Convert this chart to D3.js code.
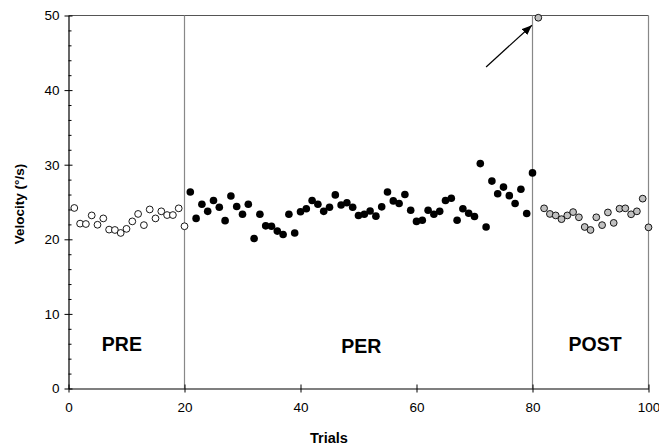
<!DOCTYPE html>
<html>
<head>
<meta charset="utf-8">
<script src="https://cdn.jsdelivr.net/npm/d3@7"></script>
<style>
  html, body { margin: 0; padding: 0; background: #fff; }
  svg { display: block; font-family: "Liberation Sans", Arial, sans-serif; }
</style>
</head>
<body>
<script>
// ---- Data ----
const preTrials = [1,2,3,4,5,6,7,8,9,10,11,12,13,14,15,16,17,18,19,20];
const preVel = [24.2, 22.1, 22.05, 23.2, 21.95, 22.8, 21.3, 21.25, 20.85, 21.4,
                22.4, 23.4, 21.9, 24.0, 22.8, 23.75, 23.25, 23.25, 24.15, 21.75];

const perTrials = [21,22,23,24,25,26,27,28,29,30,31,32,33,34,35,36,37,38,39,40,
                   41,42,43,44,45,46,47,48,49,50,51,52,53,54,55,56,57,58,59,60,
                   61,62,63,64,65,66,67,68,69,70,71,72,73,74,75,76,77,78,79,80];
const perVel = [26.35, 22.8, 24.7, 23.75, 25.2, 24.3, 22.5, 25.8, 24.4, 23.35,
                24.7, 20.1, 23.35, 21.8, 21.75, 21.1, 20.65, 23.35, 20.85, 23.7,
                24.1, 25.2, 24.7, 23.75, 24.3, 25.95, 24.6, 24.9, 24.3, 23.2,
                23.35, 23.8, 23.1, 24.35, 26.35, 25.15, 24.8, 26.0, 23.9, 22.4,
                22.55, 23.9, 23.35, 23.75, 25.2, 25.5, 22.55, 24.1, 23.5, 23.05,
                30.15, 21.65, 27.8, 26.1, 27.0, 25.85, 24.8, 26.7, 23.45, 28.9];

const postTrials = [81,82,83,84,85,86,87,88,89,90,91,92,93,94,95,96,97,98,99,100];
const postVel = [49.7, 24.15, 23.4, 23.2, 22.7, 23.2, 23.65, 22.95, 21.65, 21.25,
                 22.95, 21.9, 23.6, 22.2, 24.1, 24.15, 23.35, 23.75, 25.45, 21.6];

const phaseBoundaries = [20, 80];
const phaseLabels = ["PRE", "PER", "POST"];
const phaseLabelX = [9.2, 50.5, 90.8];
const phaseLabelY = [5.0, 4.7, 5.0];

const xTicks = [0, 20, 40, 60, 80, 100];
const yTicks = [0, 10, 20, 30, 40, 50];
const yMinorTicks = [2,4,6,8,12,14,16,18,22,24,26,28,32,34,36,38,42,44,46,48];

const arrowFrom = [72.0, 43.1];
const arrowTo = [79.9, 48.7];

// ---- Chart ----
const W = 659, H = 447;
const svg = d3.select("body").append("svg").attr("width", W).attr("height", H);

const x = d3.scaleLinear().domain([0, 100]).range([68.5, 648.5]);
const y = d3.scaleLinear().domain([0, 50]).range([388.5, 15.5]);

// frame (top & right)
svg.append("line").attr("x1", x(0)).attr("x2", x(100)).attr("y1", y(50)).attr("y2", y(50))
  .attr("stroke", "#555").attr("stroke-width", 1.2);
svg.append("line").attr("x1", x(100)).attr("x2", x(100)).attr("y1", y(0)).attr("y2", y(50))
  .attr("stroke", "#888").attr("stroke-width", 1.2);

// phase boundaries
svg.selectAll("line.phase").data(phaseBoundaries).enter().append("line")
  .attr("class", "phase")
  .attr("x1", d => x(d)).attr("x2", d => x(d))
  .attr("y1", y(0)).attr("y2", y(50))
  .attr("stroke", "#888").attr("stroke-width", 1.2);

// phase labels
svg.selectAll("text.phaselab").data(phaseLabels).enter().append("text")
  .attr("class", "phaselab")
  .attr("x", (d, i) => x(phaseLabelX[i]))
  .attr("y", (d, i) => y(phaseLabelY[i]))
  .attr("text-anchor", "middle")
  .attr("font-size", "19.5px").attr("font-weight", "bold")
  .text(d => d);

// points
const R = 3.4;
svg.append("g").selectAll("circle").data(preTrials).enter().append("circle")
  .attr("cx", d => x(d)).attr("cy", (d, i) => y(preVel[i])).attr("r", R)
  .attr("fill", "#fff").attr("stroke", "#000").attr("stroke-width", 0.9);
svg.append("g").selectAll("circle").data(perTrials).enter().append("circle")
  .attr("cx", d => x(d)).attr("cy", (d, i) => y(perVel[i])).attr("r", R + 0.4)
  .attr("fill", "#000");
svg.append("g").selectAll("circle").data(postTrials).enter().append("circle")
  .attr("cx", d => x(d)).attr("cy", (d, i) => y(postVel[i])).attr("r", R)
  .attr("fill", "#c0c0c0").attr("stroke", "#000").attr("stroke-width", 0.9);

// arrow
const defs = svg.append("defs");
defs.append("marker").attr("id", "ah")
  .attr("markerUnits", "userSpaceOnUse")
  .attr("viewBox", "0 0 10 8").attr("refX", 10).attr("refY", 4)
  .attr("markerWidth", 10).attr("markerHeight", 8).attr("orient", "auto")
  .append("path").attr("d", "M0,0 L10,4 L0,8 Z").attr("fill", "#000");
svg.append("line")
  .attr("x1", x(arrowFrom[0])).attr("y1", y(arrowFrom[1]))
  .attr("x2", x(arrowTo[0])).attr("y2", y(arrowTo[1]))
  .attr("stroke", "#000").attr("stroke-width", 1.2)
  .attr("marker-end", "url(#ah)");

// axes
const xAxis = svg.append("g").attr("transform", `translate(0,${y(0)})`)
  .call(d3.axisBottom(x).tickValues(xTicks).tickSize(4).tickPadding(9.5).tickSizeOuter(0));
xAxis.selectAll(".tick line").attr("y1", -4);
const yAxis = svg.append("g").attr("transform", `translate(${x(0)},0)`)
  .call(d3.axisLeft(y).tickValues(yTicks).tickSize(4).tickPadding(5).tickSizeOuter(0));
yAxis.selectAll(".tick line").attr("x1", 4);
const yMinor = svg.append("g").attr("transform", `translate(${x(0)},0)`)
  .call(d3.axisLeft(y).tickValues(yMinorTicks).tickSize(-3).tickFormat("").tickSizeOuter(0));
yMinor.select(".domain").remove();

[xAxis, yAxis, yMinor].forEach(g => {
  g.selectAll("path.domain").attr("stroke", "#000").attr("stroke-width", 1.2);
  g.selectAll(".tick line").attr("stroke", "#000").attr("stroke-width", 1);
  g.selectAll(".tick text").attr("fill", "#000")
    .attr("font-size", "13.5px").attr("font-family", '"Liberation Sans", Arial, sans-serif');
});

// axis titles
svg.append("text").attr("x", 329).attr("y", 443)
  .attr("text-anchor", "middle").attr("font-size", "14.5px").attr("font-weight", "bold")
  .text("Trials");
svg.append("text").attr("transform", "translate(23.5,204) rotate(-90)")
  .attr("text-anchor", "middle").attr("font-size", "13.5px").attr("font-weight", "bold")
  .text("Velocity (°/s)");
</script>
</body>
</html>
